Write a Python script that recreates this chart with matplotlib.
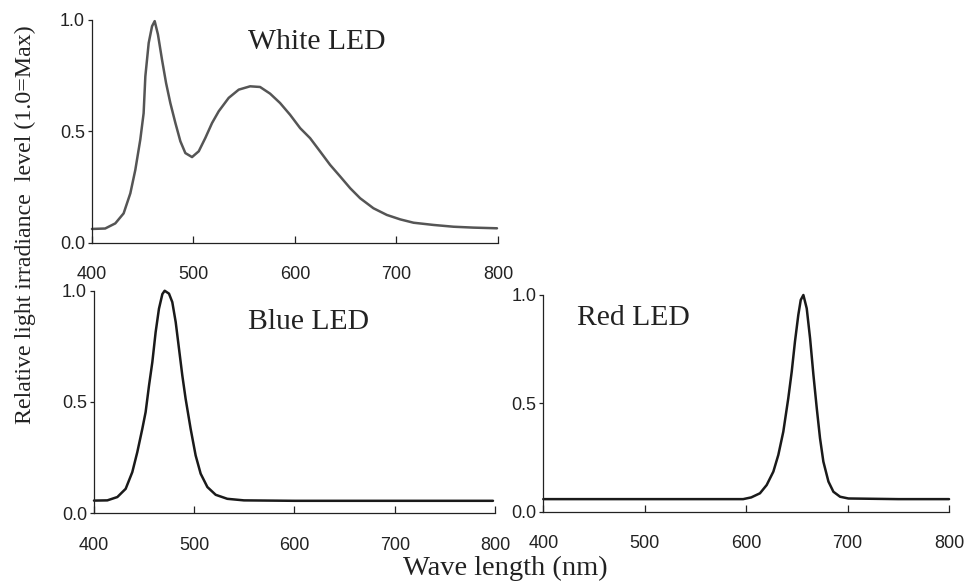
import matplotlib
matplotlib.use("Agg")
import matplotlib.pyplot as plt

# --- spectra (wavelength nm, relative irradiance) ---
white_nm = [400, 413, 423, 431.2, 437.8, 442.7, 447.6, 450.9, 452.6, 455.9, 459.2, 461.8,
            465, 469, 473, 477.2, 482.2, 487.1, 492, 498.6, 505.2, 511.7, 518.3, 524.9,
            534.7, 544.6, 555.8, 565.6, 575.5, 585.3, 595.2, 605.1, 614.9, 624.8, 634.6,
            644.5, 654.4, 664.2, 677.3, 690.5, 703.7, 716.8, 736.5, 756.2, 775.9, 799]
white_val = [0.061, 0.063, 0.086, 0.131, 0.221, 0.326, 0.462, 0.581, 0.747, 0.897, 0.972, 0.995,
             0.935, 0.822, 0.717, 0.627, 0.537, 0.455, 0.402, 0.384, 0.41, 0.47, 0.537, 0.59,
             0.65, 0.687, 0.702, 0.699, 0.669, 0.627, 0.574, 0.514, 0.469, 0.409, 0.349,
             0.297, 0.244, 0.199, 0.154, 0.124, 0.104, 0.089, 0.079, 0.071, 0.067, 0.064]

blue_nm = [400, 413.3, 423.3, 431.6, 438.2, 443.2, 448.2, 451.5, 454.9, 458.2, 461.5, 464.8,
           468.2, 470.5, 474.8, 478.1, 481.5, 484.8, 488.1, 491.4, 496.4, 501.4, 506.4,
           513.1, 521.4, 533, 549.6, 600, 700, 798]
blue_val = [0.056, 0.057, 0.072, 0.109, 0.184, 0.274, 0.379, 0.454, 0.574, 0.679, 0.814, 0.919,
            0.985, 1.0, 0.987, 0.949, 0.859, 0.739, 0.619, 0.514, 0.379, 0.259, 0.177,
            0.117, 0.082, 0.064, 0.057, 0.055, 0.055, 0.055]

red_nm = [400, 500, 597, 605, 613.6, 620.2, 626.8, 631.7, 636.6, 641.5, 644.9, 648.1, 651.4,
          653.8, 656.4, 659.7, 663, 666.3, 669.6, 672.8, 676.1, 681.1, 686, 692.6, 700.8,
          750, 800]
red_val = [0.058, 0.058, 0.058, 0.066, 0.085, 0.123, 0.185, 0.262, 0.369, 0.523, 0.646, 0.785,
           0.908, 0.977, 1.0, 0.938, 0.8, 0.631, 0.477, 0.339, 0.231, 0.139, 0.092, 0.069,
           0.061, 0.058, 0.058]

x_ticks = [400, 500, 600, 700, 800]
y_ticks = [0.0, 0.5, 1.0]
y_ticklabels = ["0.0", "0.5", "1.0"]

serif = "Liberation Serif"
sans = "Liberation Sans"

fig = plt.figure(figsize=(9.7, 5.83), dpi=100)


def style_axes(ax):
    ax.set_xlim(400, 800)
    ax.set_ylim(0, 1.0)
    for s in ("top", "right"):
        ax.spines[s].set_visible(False)
    for s in ("left", "bottom"):
        ax.spines[s].set_linewidth(0.9)
        ax.spines[s].set_color("#222222")
    ax.set_xticks(x_ticks)
    ax.set_yticks(y_ticks)
    ax.set_yticklabels(y_ticklabels)
    ax.tick_params(axis="x", direction="in", length=5, width=0.9, pad=17,
                   labelsize=13, colors="#222222")
    ax.tick_params(axis="y", direction="out", length=3, width=0.9, pad=2,
                   labelsize=13, colors="#222222")
    for lab in ax.get_xticklabels() + ax.get_yticklabels():
        lab.set_fontfamily(sans)


ax_w = fig.add_axes([0.0948, 0.584, 0.4186, 0.3817])
ax_b = fig.add_axes([0.0969, 0.120, 0.4134, 0.3813])
ax_r = fig.add_axes([0.5601, 0.1223, 0.4183, 0.3717])

for ax in (ax_w, ax_b, ax_r):
    style_axes(ax)

line_kw = dict(lw=1.8, clip_on=False, solid_joinstyle="round", solid_capstyle="round")
ax_w.plot(white_nm, white_val, color="#555555", **line_kw)
ax_b.plot(blue_nm, blue_val, color="#1a1a1a", **line_kw)
ax_r.plot(red_nm, red_val, color="#1a1a1a", **line_kw)

title_kw = dict(ha="center", va="center", fontsize=21.3, family=serif, color="#222222")
ax_w.text(0.554, 0.903, "White LED", transform=ax_w.transAxes, **title_kw)
ax_b.text(0.535, 0.86, "Blue LED", transform=ax_b.transAxes, **title_kw)
ax_r.text(0.222, 0.892, "Red LED", transform=ax_r.transAxes, **title_kw)

fig.text(0.026, 1 - 225 / 583, "Relative light irradiance  level (1.0=Max)", rotation=90,
         ha="center", va="center", fontsize=17.2, family=serif, color="#222222")
fig.text(0.521, 1 - 568 / 583, "Wave length (nm)", ha="center", va="center",
         fontsize=20.5, family=serif, color="#222222")

fig.savefig("out.png", dpi=100)
